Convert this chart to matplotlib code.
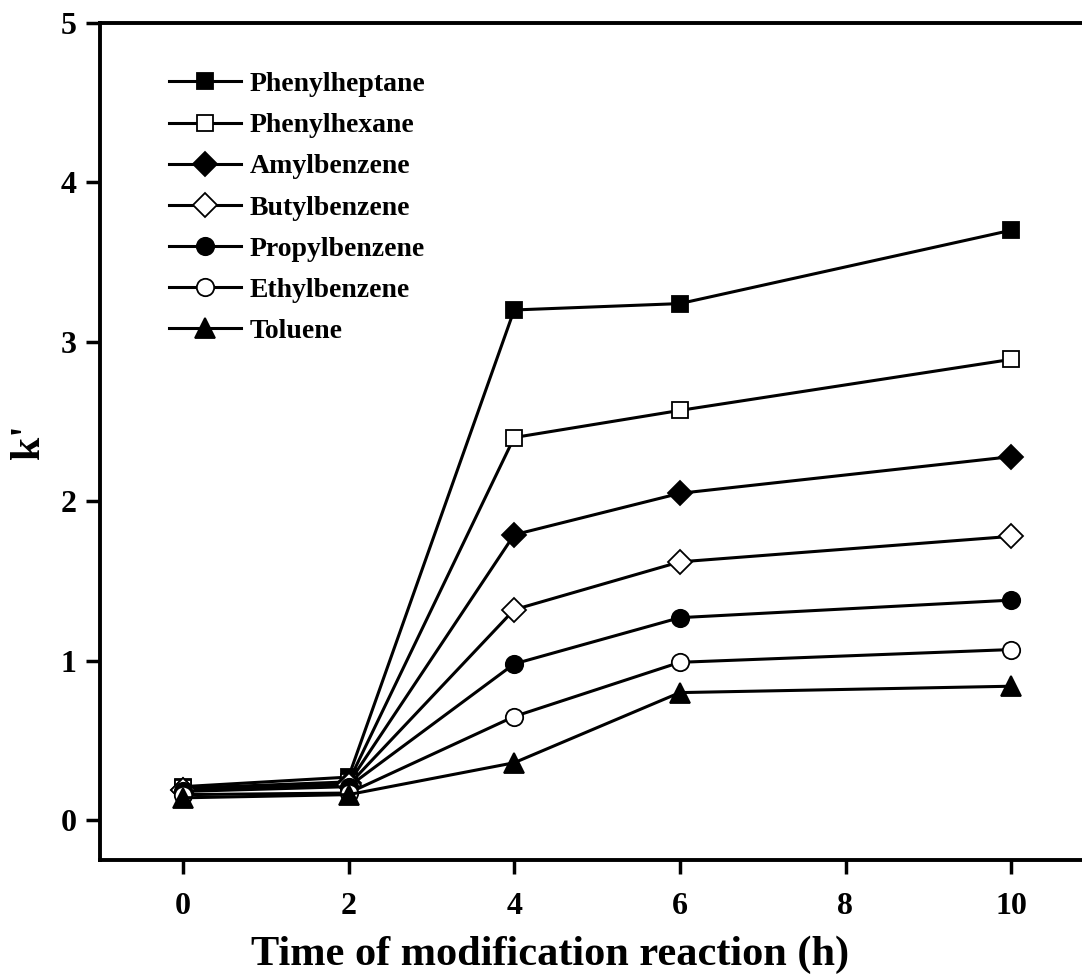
import matplotlib
matplotlib.use("Agg")
import matplotlib.pyplot as plt

plt.rcParams['font.family'] = ['Liberation Serif', 'DejaVu Serif']
plt.rcParams['font.weight'] = 'bold'

# Données
temps = [0, 2, 4, 6, 10]
phenylheptane = [0.21, 0.27, 3.20, 3.24, 3.70]
phenylhexane = [0.20, 0.24, 2.40, 2.57, 2.89]
amylbenzene = [0.19, 0.23, 1.79, 2.05, 2.28]
butylbenzene = [0.19, 0.22, 1.32, 1.62, 1.78]
propylbenzene = [0.18, 0.21, 0.98, 1.27, 1.38]
ethylbenzene = [0.16, 0.17, 0.65, 0.99, 1.07]
toluene = [0.14, 0.16, 0.36, 0.80, 0.84]

noms = ["Phenylheptane", "Phenylhexane", "Amylbenzene", "Butylbenzene",
        "Propylbenzene", "Ethylbenzene", "Toluene"]
series = [phenylheptane, phenylhexane, amylbenzene, butylbenzene,
          propylbenzene, ethylbenzene, toluene]
marqueurs = ['s', 's', 'D', 'D', 'o', 'o', '^']
remplis = [True, False, True, False, True, False, True]
tailles = [11.5, 11.5, 12, 12, 12.5, 12.5, 14]

fig = plt.figure(figsize=(10.82, 9.8), dpi=100)
ax = fig.add_axes([100 / 1082, 1 - 860 / 980, 994 / 1082, 837 / 980])

for nom, y, m, f, ms in zip(noms, series, marqueurs, remplis, tailles):
    ax.plot(temps, y, color='black', lw=2.2, marker=m, ms=ms,
            mfc='black' if f else 'white', mec='black', mew=1.3,
            label=nom, clip_on=False)

ax.set_xlim(-1, 11)
ax.set_ylim(-0.25, 5)
ax.set_xticks([0, 2, 4, 6, 8, 10])
ax.set_yticks([0, 1, 2, 3, 4, 5])
ax.tick_params(direction='out', length=10, width=2.5, labelsize=23)
ax.tick_params(axis='x', pad=13)
ax.tick_params(axis='y', pad=7)
for s in ax.spines.values():
    s.set_linewidth(2.8)
ax.spines['right'].set_visible(False)

ax.set_xlabel("Time of modification reaction (h)", fontsize=30.5,
              fontweight='bold')
ax.xaxis.set_label_coords(0.4527, -0.113)
ax.xaxis.label.set_va('center')
ax.set_ylabel("k'", fontsize=30, fontweight='bold', labelpad=9)

leg = ax.legend(loc='upper left', bbox_to_anchor=(0.058, 0.955), frameon=False,
                fontsize=20, handlelength=2.6, handletextpad=0.3,
                labelspacing=0.565, borderaxespad=0)

fig.savefig("out.png", dpi=100)
